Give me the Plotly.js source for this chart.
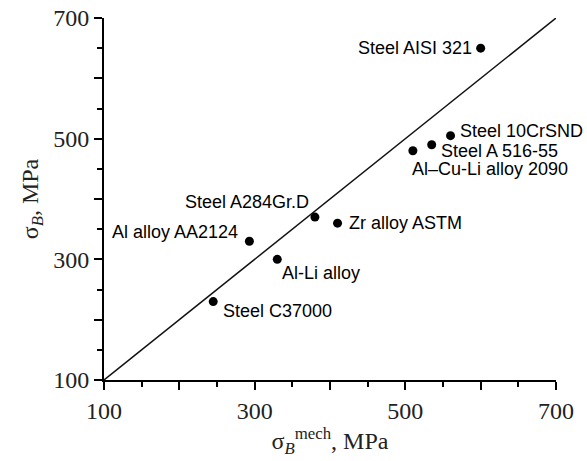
<!DOCTYPE html>
<html>
<head>
<meta charset="utf-8">
<script src="https://cdn.plot.ly/plotly-3.0.1.min.js"></script>
<style>html,body{margin:0;padding:0;background:#fff;}#chart{width:587px;height:461px;}</style>
</head>
<body>
<div id="chart"></div>
<script>
// Data
const materials = ["Steel AISI 321","Steel 10CrSND","Steel A 516-55","Al\u2013Cu-Li alloy 2090","Steel A284Gr.D","Zr alloy ASTM","Al alloy AA2124","Al-Li alloy","Steel C37000"];
const sigmaMech = [600, 560, 535, 510, 380, 410, 293, 330, 245];
const sigmaB    = [650, 505, 490, 480, 370, 360, 330, 300, 230];
const lineX = [100, 700];
const lineY = [100, 700];

// label placement (pixels relative to each point)
const labelAnchor = ["right","left","left","left","right","left","right","left","left"];
const labelDX = [-8, 8, 8, -2, -5, 10, -10, 4, 9];
const labelDY = [0, 5, -6, -18, 15, 0, 9, -14, -9];

const traces = [
  {x: lineX, y: lineY, mode: "lines", type: "scatter", line: {color: "#111", width: 1.5}, hoverinfo: "skip"},
  {x: sigmaMech, y: sigmaB, text: materials, mode: "markers", type: "scatter", marker: {color: "#000", size: 9}}
];

const annotations = materials.map((m, i) => ({
  x: sigmaMech[i], y: sigmaB[i], xref: "x", yref: "y", text: m, showarrow: false,
  xanchor: labelAnchor[i], yanchor: "middle", xshift: labelDX[i], yshift: labelDY[i],
  borderpad: 0,
  font: {family: "Liberation Sans, Arial, sans-serif", size: 18, color: "#000"}
}));

const serif = {family: "Liberation Serif, Times New Roman, serif", size: 24, color: "#222"};

const axisCommon = {
  range: [100, 700], tickmode: "linear", tick0: 100, dtick: 100, ticklabelstep: 2,
  showgrid: false, zeroline: false, showline: true, linecolor: "#000", linewidth: 2,
  ticks: "outside", ticklen: 8, tickwidth: 2, tickcolor: "#000",
  tickfont: serif,
  minor: {dtick: 50, tick0: 100, ticks: "outside", ticklen: 5, tickwidth: 2, tickcolor: "#000", showgrid: false}
};

const layout = {
  width: 587, height: 461,
  margin: {l: 104, r: 31, t: 18, b: 81},
  paper_bgcolor: "#fff", plot_bgcolor: "#fff",
  showlegend: false,
  xaxis: Object.assign({}, axisCommon, {
    title: {text: "\u03c3<sub><i>B</i></sub><sup>mech</sup>, MPa", standoff: 4, font: serif}
  }),
  yaxis: Object.assign({}, axisCommon, {
    title: {text: "\u03c3<sub><i>B</i></sub>, MPa", standoff: 8, font: serif}
  }),
  annotations: annotations
};

Plotly.newPlot("chart", traces, layout, {displayModeBar: false, staticPlot: true});
</script>
</body>
</html>
